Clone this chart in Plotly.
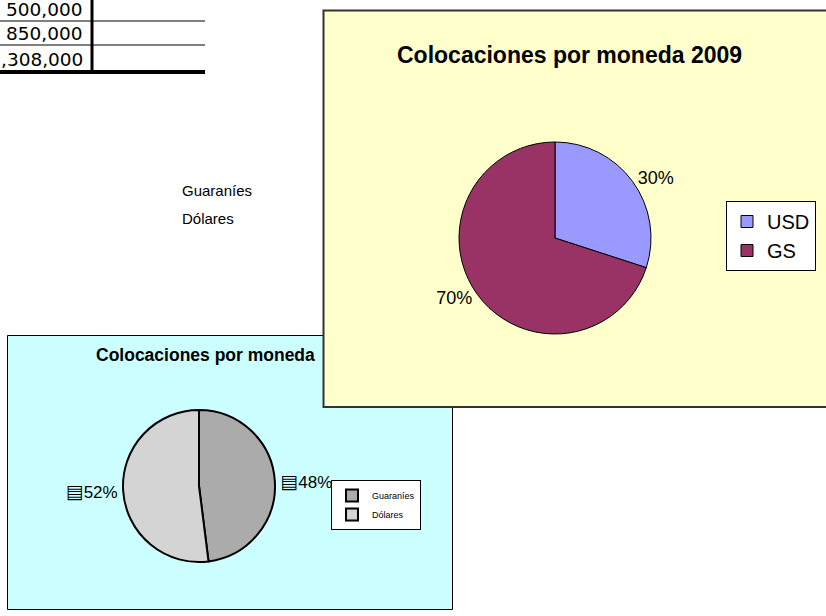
import plotly.graph_objects as go

W, H = 826, 616
FONT = "Liberation Sans, Arial, sans-serif"
WIDE = "DejaVu Sans, Verdana, sans-serif"

# ---- data ----
sheet_values = ["500,000", "850,000", ",308,000"]
sheet_labels = ["Guaraníes", "Dólares"]

chart1_title = "Colocaciones por moneda 2009"
chart1_labels = ["USD", "GS"]
chart1_values = [30, 70]
chart1_colors = ["#9999FF", "#993366"]

chart2_title = "Colocaciones por moneda"
chart2_labels = ["Guaraníes", "Dólares"]
chart2_values = [48, 52]
chart2_colors = ["#ababab", "#d4d4d4"]


def px(x):
    return x / W


def py(y):
    return 1 - y / H


fig = go.Figure()

# bottom-left (older) chart
fig.add_trace(go.Pie(
    labels=chart2_labels, values=chart2_values, sort=False, direction="clockwise",
    rotation=0,
    marker=dict(colors=chart2_colors, line=dict(color="black", width=2)),
    textposition="outside", textinfo="percent",
    texttemplate="<span style='font-family:DejaVu Sans;font-size:19px'>▤</span>%{percent}",
    textfont=dict(family=FONT, size=17, color="black"),
    domain=dict(x=[px(123), px(275)], y=[py(562), py(410)]),
    legend="legend2", hoverinfo="label+percent",
))

# top-right chart
fig.add_trace(go.Pie(
    labels=chart1_labels, values=chart1_values, sort=False, direction="clockwise",
    rotation=0,
    marker=dict(colors=chart1_colors, line=dict(color="black", width=1)),
    textposition="outside", textinfo="percent",
    textfont=dict(family=FONT, size=18, color="black"),
    domain=dict(x=[px(459), px(651)], y=[py(334), py(142)]),
    legend="legend", hoverinfo="label+percent",
))

shapes = []
# chart boxes
shapes.append(dict(type="rect", xref="paper", yref="paper", x0=px(7.5), x1=px(452.5),
                   y0=py(609.5), y1=py(335.5), fillcolor="#CCFFFF",
                   line=dict(color="black", width=1), layer="below"))
shapes.append(dict(type="rect", xref="paper", yref="paper", x0=px(323.5), x1=px(840),
                   y0=py(407), y1=py(10.5), fillcolor="#FFFFCC",
                   line=dict(color="#333333", width=2), layer="below"))
# spreadsheet grid lines
for yy in [21, 45]:
    shapes.append(dict(type="line", xref="paper", yref="paper", x0=0, x1=px(205),
                       y0=py(yy), y1=py(yy), line=dict(color="black", width=1), layer="below"))
shapes.append(dict(type="line", xref="paper", yref="paper", x0=0, x1=px(205),
                   y0=py(72), y1=py(72), line=dict(color="black", width=4), layer="below"))
shapes.append(dict(type="line", xref="paper", yref="paper", x0=px(92), x1=px(92),
                   y0=py(0), y1=py(74), line=dict(color="black", width=3), layer="below"))

annotations = []
for txt, yy in zip(sheet_values, [9, 33, 60]):
    annotations.append(dict(text=txt, x=px(85), y=py(yy), xref="paper", yref="paper",
                            xanchor="right", yanchor="middle", showarrow=False,
                            font=dict(family=WIDE, size=18.5, color="black")))
for txt, yy in zip(sheet_labels, [190, 218]):
    annotations.append(dict(text=txt, x=px(180), y=py(yy), xref="paper", yref="paper",
                            xanchor="left", yanchor="middle", showarrow=False,
                            font=dict(family=FONT, size=15, color="black")))
annotations.append(dict(text="<b>" + chart1_title + "</b>", x=px(569), y=py(55),
                        xref="paper", yref="paper", xanchor="center", yanchor="middle",
                        showarrow=False, font=dict(family=FONT, size=23, color="black")))
annotations.append(dict(text="<b>" + chart2_title + "</b>", x=px(94), y=py(355),
                        xref="paper", yref="paper", xanchor="left", yanchor="middle",
                        showarrow=False, font=dict(family=FONT, size=17.5, color="black")))

fig.update_layout(
    width=W, height=H, margin=dict(l=0, r=0, t=0, b=0),
    paper_bgcolor="white", plot_bgcolor="white",
    shapes=shapes, annotations=annotations,
    legend=dict(x=px(816), y=py(201), xanchor="right", yanchor="top",
                bgcolor="white", bordercolor="black", borderwidth=1,
                font=dict(family=FONT, size=20, color="black")),
    legend2=dict(x=px(331), y=py(480), xanchor="left", yanchor="top",
                 bgcolor="white", bordercolor="black", borderwidth=1,
                 font=dict(family=FONT, size=9, color="black")),
)

fig.write_html("out.html",
               config={"displayModeBar": False},
               post_script="document.documentElement.style.margin='0';"
                           "document.body.style.margin='0';"
                           "document.body.style.overflow='hidden';")
